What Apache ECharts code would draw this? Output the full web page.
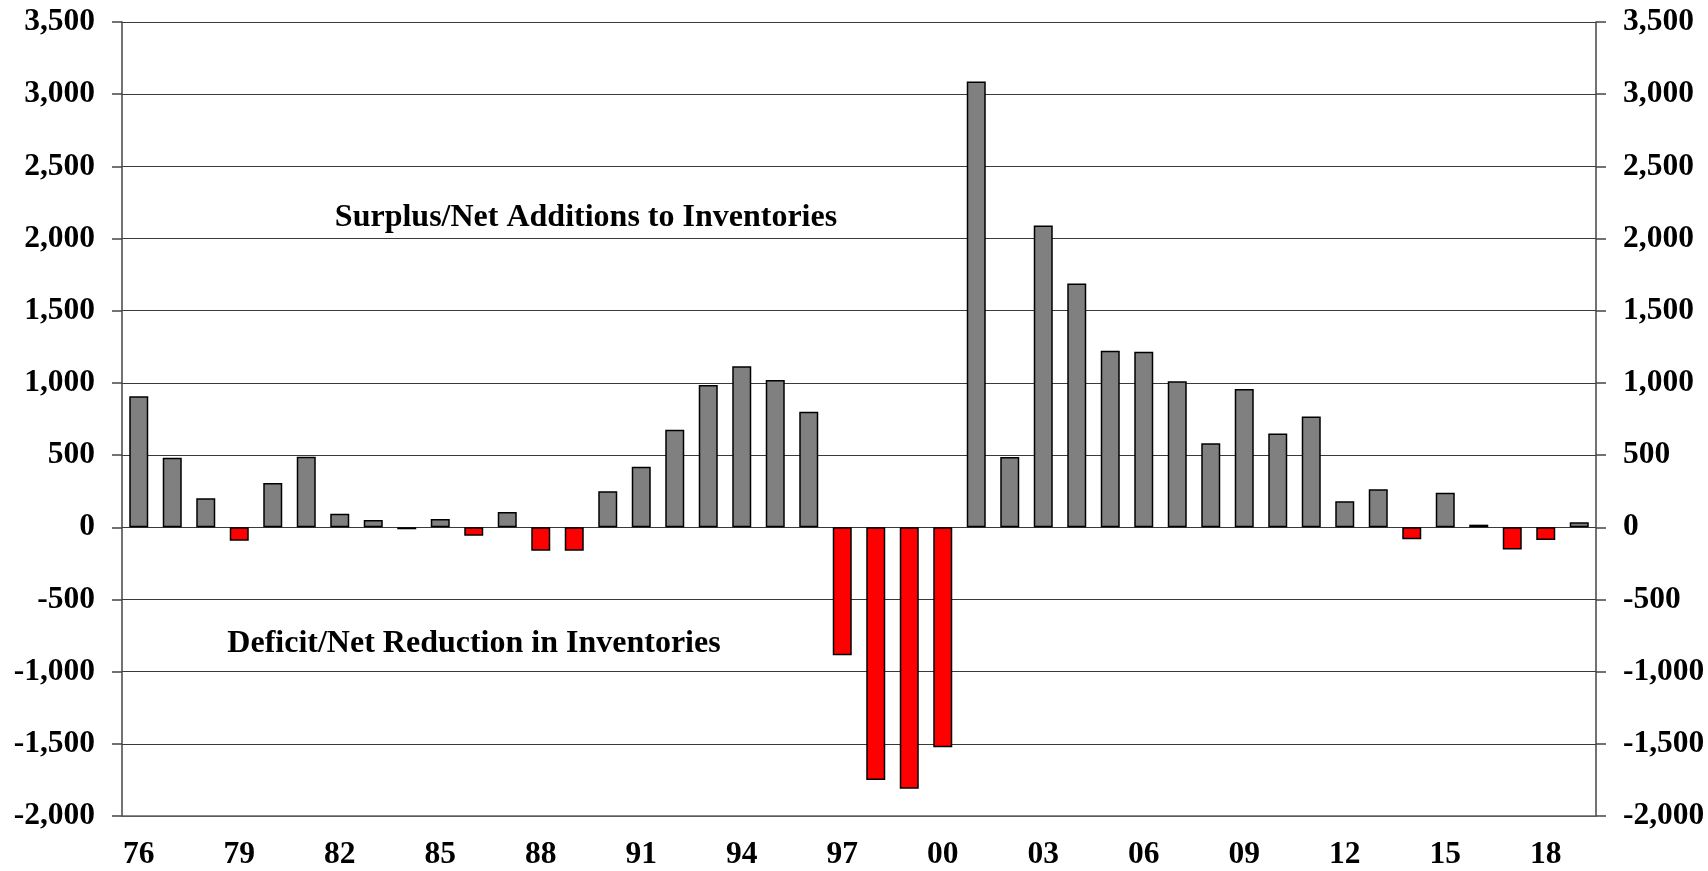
<!DOCTYPE html>
<html>
<head>
<meta charset="utf-8">
<script src="https://cdn.jsdelivr.net/npm/echarts@6/dist/echarts.min.js"></script>
<style>
html,body{margin:0;padding:0;background:#fff;}
#chart{width:1708px;height:871px;}
</style>
</head>
<body>
<div id="chart"></div>
<script>
const years = ['76','77','78','79','80','81','82','83','84','85','86','87','88','89','90','91','92','93','94','95','96','97','98','99','00','01','02','03','04','05','06','07','08','09','10','11','12','13','14','15','16','17','18','19'];
const balance = [907,481,201,-93,306,488,93,51,-14,58,-58,106,-162,-162,250,419,676,985,1116,1021,801,-887,-1751,-1811,-1523,3088,487,2090,1688,1222,1215,1012,582,958,649,767,181,263,-83,240,18,-154,-88,35];
const yTicks = {min:-2000, max:3500, interval:500};
const surplusText = 'Surplus/Net Additions to Inventories';
const deficitText = 'Deficit/Net Reduction in Inventories';

const FONT = '"Liberation Serif","Times New Roman",serif';
const fmt = v => v.toLocaleString('en-US');
const chart = echarts.init(document.getElementById('chart'));
const yAxisBase = {
  type:'value', min:yTicks.min, max:yTicks.max, interval:yTicks.interval,
  axisLine:{show:true, lineStyle:{color:'#444', width:1.5}},
  axisTick:{show:true, inside:false, length:10, lineStyle:{color:'#444', width:1.5}},
  axisLabel:{formatter:fmt, color:'#000', fontFamily:FONT, fontWeight:'bold', fontSize:31.5, margin:27}
};
chart.setOption({
  animation:false,
  grid:{left:122, right:112, top:22, bottom:55, containLabel:false},
  xAxis:{
    type:'category', data:years, position:'bottom',
    axisLine:{show:true, onZero:false, lineStyle:{color:'#666', width:1.5}},
    axisTick:{show:false},
    axisLabel:{interval:2, color:'#000', fontFamily:FONT, fontWeight:'bold', fontSize:31.5, margin:23}
  },
  yAxis:[
    Object.assign({}, yAxisBase, {position:'left', splitLine:{show:true, lineStyle:{color:'#3a3a3a', width:1.2}}}),
    Object.assign({}, yAxisBase, {position:'right', splitLine:{show:false}, axisLabel:Object.assign({}, yAxisBase.axisLabel)})
  ],
  series:[{
    type:'bar', yAxisIndex:0, barWidth:19,
    data:balance.map(v => ({value:v, itemStyle:{color: v < 0 ? '#ff0000' : '#808080'}})),
    itemStyle:{borderColor:'#000', borderWidth:1.5}
  }],
  graphic:[
    {type:'text', x:586, y:218, style:{text:surplusText, fill:'#000', font:'bold 32px "Liberation Serif", serif', align:'center', verticalAlign:'middle'}},
    {type:'text', x:474, y:644, style:{text:deficitText, fill:'#000', font:'bold 32px "Liberation Serif", serif', align:'center', verticalAlign:'middle'}}
  ]
});
</script>
</body>
</html>
